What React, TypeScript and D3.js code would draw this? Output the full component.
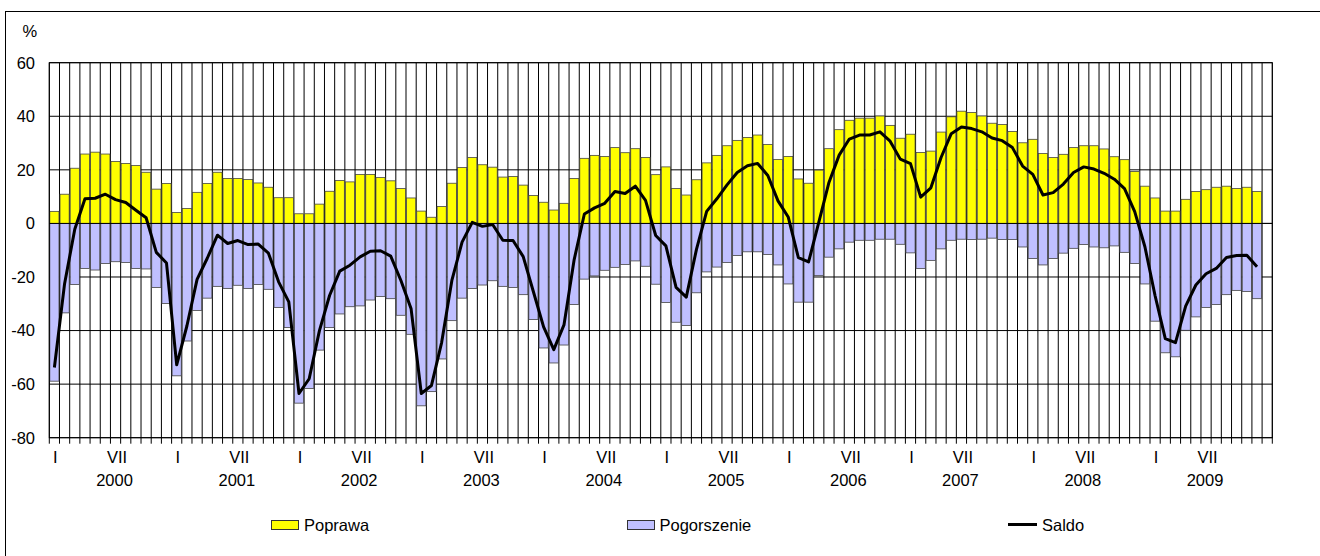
import React from "react";
import * as d3 from "d3";

// ---- data ----
const years = ["2000", "2001", "2002", "2003", "2004", "2005", "2006", "2007", "2008", "2009"];
const romanMonths = ["I", "II", "III", "IV", "V", "VI", "VII", "VIII", "IX", "X", "XI", "XII"];
const categories = years.flatMap((y) => romanMonths.map((m) => `${m} ${y}`));

// Poprawa (improvement), Jan 2000 – Nov 2009
const poprawa = [
  4.5, 10.9, 20.6, 25.9, 26.6, 25.9, 23.1, 22.4, 21.6, 19.1, 12.8, 14.9,
  4.1, 5.6, 11.6, 14.9, 19.1, 16.8, 16.8, 16.4, 15.1, 13.5, 9.6, 9.6,
  3.6, 3.6, 7.2, 12.0, 16.0, 15.5, 18.3, 18.3, 17.1, 15.9, 13.0, 9.5,
  4.6, 2.3, 6.3, 15.0, 20.9, 24.6, 21.9, 21.0, 17.3, 17.5, 14.3, 10.4,
  7.9, 5.0, 7.5, 16.8, 24.3, 25.4, 25.0, 28.3, 26.4, 27.9, 24.6, 18.2,
  21.1, 13.0, 10.6, 16.3, 22.6, 25.4, 29.0, 31.0, 32.1, 33.0, 29.5, 23.9,
  25.0, 16.6, 15.0, 19.9, 27.9, 35.0, 38.5, 39.3, 39.3, 40.1, 36.6, 31.8,
  33.3, 26.5, 27.0, 34.1, 39.8, 41.9, 41.4, 40.1, 37.4, 36.9, 34.3, 30.1,
  31.4, 26.1, 24.6, 25.8, 28.3, 29.0, 29.0, 27.8, 24.9, 23.8, 19.4, 13.9,
  9.5, 4.6, 4.6, 9.0, 11.9, 12.6, 13.5, 13.9, 13.0, 13.5, 11.9,
];

// Pogorszenie (deterioration), shown as negative
const pogorszenie = [
  -58.9, -33.4, -22.8, -16.8, -17.4, -15.0, -14.3, -14.6, -16.8, -17.0, -23.9, -29.9,
  -56.9, -43.9, -32.5, -27.9, -23.5, -24.3, -23.1, -24.3, -22.8, -24.6, -31.4, -38.9,
  -67.1, -61.6, -47.3, -38.9, -33.8, -31.1, -30.8, -28.6, -27.3, -28.1, -34.3, -41.4,
  -68.1, -62.8, -50.6, -36.3, -27.9, -24.3, -23.0, -21.4, -23.5, -23.9, -26.6, -35.9,
  -46.5, -52.1, -45.4, -30.3, -20.8, -19.6, -17.5, -16.4, -15.3, -14.0, -16.0, -22.7,
  -29.5, -36.9, -38.1, -25.9, -18.1, -16.3, -14.6, -12.0, -10.6, -10.6, -11.6, -15.5,
  -22.6, -29.4, -29.4, -19.5, -12.6, -9.5, -7.0, -6.3, -6.3, -5.9, -5.9, -7.8,
  -11.0, -16.8, -13.8, -9.5, -6.3, -5.9, -6.0, -5.9, -5.5, -6.0, -6.0, -8.8,
  -13.1, -15.5, -13.1, -11.1, -9.3, -7.9, -8.8, -9.1, -8.4, -10.8, -15.0, -22.6,
  -36.5, -48.3, -49.8, -39.9, -34.9, -31.4, -30.3, -26.6, -25.0, -25.4, -28.1,
];

// Saldo (balance)
const saldo = [
  -53.8, -22.5, -2.2, 9.2, 9.4, 10.9, 8.9, 7.8, 4.9, 2.1, -10.8, -14.8,
  -52.8, -38.3, -20.9, -13.0, -4.4, -7.5, -6.4, -7.9, -7.7, -11.1, -21.8, -29.3,
  -63.5, -58.0, -40.1, -26.9, -17.8, -15.6, -12.5, -10.4, -10.2, -12.2, -21.3, -31.9,
  -63.5, -60.5, -44.4, -21.3, -7.0, 0.4, -1.1, -0.4, -6.3, -6.4, -12.4, -25.5,
  -38.6, -47.1, -37.9, -13.5, 3.5, 5.8, 7.5, 11.9, 11.2, 13.9, 8.6, -4.5,
  -8.4, -23.9, -27.5, -9.7, 4.5, 9.2, 14.4, 19.0, 21.5, 22.4, 17.9, 8.4,
  2.4, -12.8, -14.4, 0.4, 15.3, 25.5, 31.5, 33.0, 33.0, 34.2, 30.7, 24.0,
  22.3, 9.8, 13.3, 24.6, 33.5, 36.0, 35.4, 34.2, 31.9, 30.9, 28.3, 21.4,
  18.3, 10.6, 11.5, 14.7, 19.0, 21.1, 20.3, 18.7, 16.5, 13.0, 4.4, -8.7,
  -27.0, -43.0, -44.5, -30.9, -23.0, -18.8, -16.8, -12.7, -12.0, -11.9, -16.2,
];

const yTicks = [60, 40, 20, 0, -20, -40, -60, -80];
const januaryLabelAt = years.map((y) => `I ${y}`);
const midLabelAt = ["VII 2000", "VII 2001", "VII 2002", "VII 2003", "VII 2004", "VII 2005", "VII 2006", "VI 2007", "VI 2008", "VI 2009"];
const midLabelText = "VII";
const legendItems = ["Poprawa", "Pogorszenie", "Saldo"];

// ---- layout ----
const W = 1320;
const H = 556;
const plot = { left: 49.3, right: 1272.3, top: 62.7, bottom: 437.7 };
const FONT = "'Liberation Sans', Arial, sans-serif";
const FS = 16.5;
const YELLOW = "#FFFF00";
const LAVENDER = "#C0C0FF";

export default function App() {
  const x = d3.scaleBand<string>().domain(categories).range([plot.left, plot.right]).paddingInner(0).paddingOuter(0);
  const y = d3.scaleLinear().domain([-80, 60]).range([plot.bottom, plot.top]);
  const bw = x.bandwidth();
  const cx = (c: string) => (x(c) as number) + bw / 2;

  const line = d3
    .line<number>()
    .x((_, i) => cx(categories[i]))
    .y((d) => y(d));

  const boundaries = categories.map((c) => x(c) as number).concat([plot.right]);
  const barW = bw * 0.9;

  return (
    <svg width={W} height={H} style={{ position: "absolute", left: 0, top: 0, background: "#fff" }} fontFamily={FONT}>
      <rect x={5.5} y={11.5} width={W + 20} height={H + 20} fill="#fff" stroke="#000" strokeWidth={1} />

      {/* gridlines */}
      {yTicks.map((t) => (
        <line key={"h" + t} x1={plot.left} x2={plot.right} y1={y(t)} y2={y(t)} stroke="#000" strokeWidth={1} />
      ))}
      {boundaries.map((b, i) => (
        <line key={"v" + i} x1={b} x2={b} y1={plot.top} y2={plot.bottom + 6} stroke="#000" strokeWidth={1} />
      ))}

      {/* bars */}
      {poprawa.map((v, i) => (
        <rect
          key={"p" + i}
          x={cx(categories[i]) - barW / 2}
          y={y(v)}
          width={barW}
          height={y(0) - y(v)}
          fill={YELLOW}
          stroke="#444"
          strokeWidth={0.8}
        />
      ))}
      {pogorszenie.map((v, i) => (
        <rect
          key={"n" + i}
          x={cx(categories[i]) - barW / 2}
          y={y(0)}
          width={barW}
          height={y(v) - y(0)}
          fill={LAVENDER}
          stroke="#444"
          strokeWidth={0.8}
        />
      ))}
      <line x1={plot.left} x2={plot.right} y1={y(0)} y2={y(0)} stroke="#000" strokeWidth={1} />

      {/* saldo line */}
      <path d={line(saldo) || ""} fill="none" stroke="#000" strokeWidth={3} strokeLinejoin="round" />

      {/* plot frame */}
      <rect x={plot.left} y={plot.top} width={plot.right - plot.left} height={plot.bottom - plot.top} fill="none" stroke="#000" strokeWidth={1} />

      {/* y axis labels */}
      <text x={22.5} y={37} fontSize={FS} fill="#000">%</text>
      {yTicks.map((t) => (
        <text key={"yl" + t} x={35} y={y(t) + 5.8} fontSize={FS} textAnchor="end" fill="#000">
          {t}
        </text>
      ))}

      {/* x axis labels */}
      {januaryLabelAt.map((c) => (
        <text key={c} x={cx(c) + 1} y={463} fontSize={FS} textAnchor="middle" fill="#000">
          I
        </text>
      ))}
      {midLabelAt.map((c, k) => (
        <g key={c}>
          <text x={cx(c) + 1.5} y={463} fontSize={FS} textAnchor="middle" fill="#000">
            {midLabelText}
          </text>
          <text x={cx(c) - 1} y={485.5} fontSize={FS} textAnchor="middle" fill="#000">
            {years[k]}
          </text>
        </g>
      ))}

      {/* legend */}
      <rect x={271.5} y={520.5} width={27} height={9} fill={YELLOW} stroke="#333" strokeWidth={1} />
      <text x={304} y={531} fontSize={FS} fill="#000">{legendItems[0]}</text>
      <rect x={627.5} y={520.5} width={27} height={9} fill={LAVENDER} stroke="#333" strokeWidth={1} />
      <text x={659.5} y={531} fontSize={FS} fill="#000">{legendItems[1]}</text>
      <line x1={1008} x2={1037} y1={524.5} y2={524.5} stroke="#000" strokeWidth={3} />
      <text x={1042} y={531} fontSize={FS} fill="#000">{legendItems[2]}</text>
    </svg>
  );
}
